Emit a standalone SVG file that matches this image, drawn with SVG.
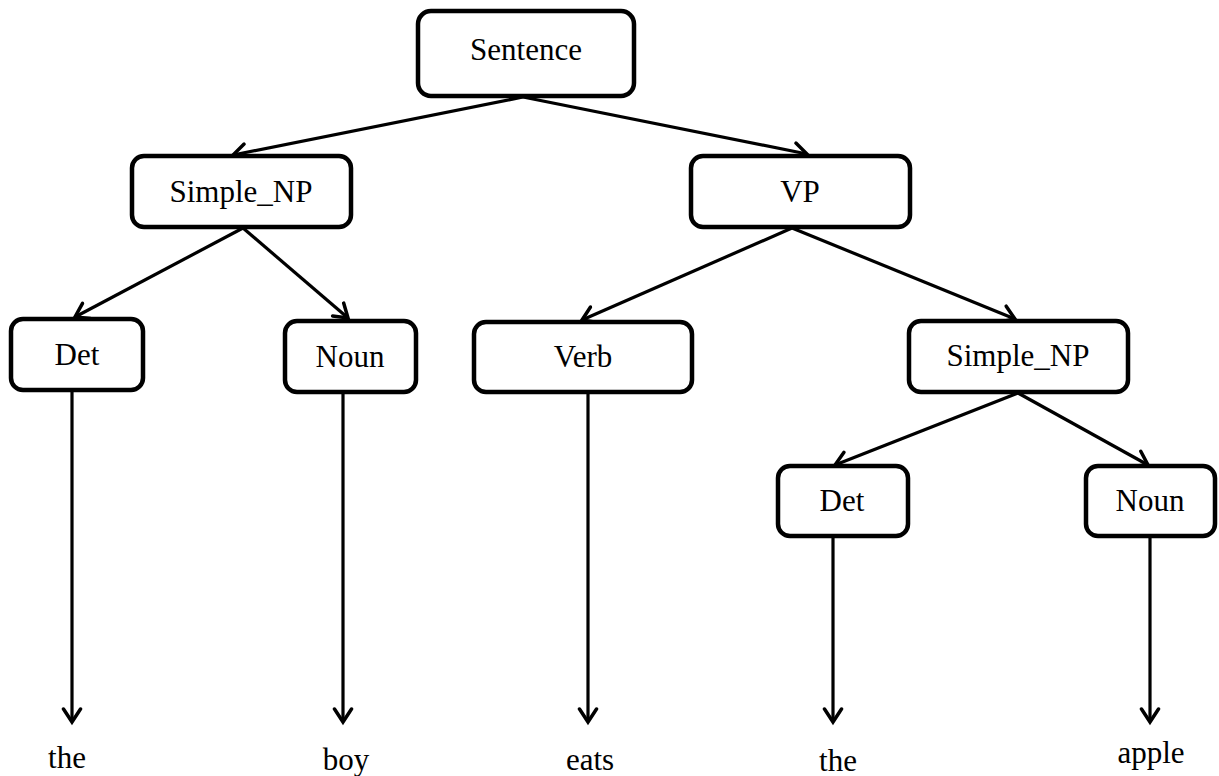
<svg xmlns="http://www.w3.org/2000/svg" width="1219" height="776" viewBox="0 0 1219 776">
<defs>
<marker id="arr" markerUnits="userSpaceOnUse" markerWidth="30" markerHeight="30" viewBox="-15 -15 30 30" refX="0" refY="0" orient="auto">
<path d="M-13,-8.5 L0,0 L-13,8.5" fill="none" stroke="#000" stroke-width="3.5" stroke-linejoin="miter" stroke-linecap="round"/>
</marker>
</defs>
<style>
.box{fill:#fff;stroke:#000;stroke-width:4.5}
.lbl{font-family:"Liberation Serif","Times New Roman",serif;font-size:31px;fill:#000;text-anchor:middle}
.c{stroke:#000;stroke-width:3.2;fill:none;marker-end:url(#arr)}
</style>
<rect width="1219" height="776" fill="#fff"/>
<g id="connectors">
<line class="c" x1="523" y1="97" x2="233" y2="155"/>
<line class="c" x1="523" y1="97" x2="807" y2="154"/>
<line class="c" x1="243" y1="228" x2="75" y2="317"/>
<line class="c" x1="243" y1="228" x2="348" y2="318"/>
<line class="c" x1="792" y1="228" x2="582" y2="320"/>
<line class="c" x1="792" y1="228" x2="1015" y2="319"/>
<line class="c" x1="1018" y1="393" x2="835" y2="465"/>
<line class="c" x1="1018" y1="393" x2="1148" y2="465"/>
<line class="c" x1="72" y1="391" x2="72" y2="722"/>
<line class="c" x1="343" y1="393" x2="343" y2="722"/>
<line class="c" x1="588" y1="393" x2="588" y2="722"/>
<line class="c" x1="833" y1="537" x2="833" y2="722"/>
<line class="c" x1="1150" y1="537" x2="1150" y2="722"/>
</g>
<g id="n-sentence"><rect class="box" x="418" y="11" width="216" height="85" rx="13"/><text class="lbl" x="526" y="60">Sentence</text></g>
<g id="n-np1"><rect class="box" x="132" y="156" width="219" height="71" rx="12"/><text class="lbl" x="241" y="202">Simple_NP</text></g>
<g id="n-vp"><rect class="box" x="691" y="156" width="219" height="71" rx="12"/><text class="lbl" x="800" y="202">VP</text></g>
<g id="n-det1"><rect class="box" x="11" y="319" width="132" height="71" rx="12"/><text class="lbl" x="77" y="365">Det</text></g>
<g id="n-noun1"><rect class="box" x="285" y="321" width="131" height="71" rx="12"/><text class="lbl" x="350" y="367">Noun</text></g>
<g id="n-verb"><rect class="box" x="474" y="322" width="218" height="70" rx="12"/><text class="lbl" x="583" y="367">Verb</text></g>
<g id="n-np2"><rect class="box" x="909" y="321" width="219" height="71" rx="12"/><text class="lbl" x="1018" y="366">Simple_NP</text></g>
<g id="n-det2"><rect class="box" x="778" y="466" width="130" height="70" rx="12"/><text class="lbl" x="842" y="511">Det</text></g>
<g id="n-noun2"><rect class="box" x="1086" y="466" width="129" height="70" rx="12"/><text class="lbl" x="1150" y="511">Noun</text></g>
<g id="words">
<text class="lbl" x="67" y="768">the</text>
<text class="lbl" x="346" y="770">boy</text>
<text class="lbl" x="590" y="770">eats</text>
<text class="lbl" x="838" y="771">the</text>
<text class="lbl" x="1151" y="763">apple</text>
</g>
</svg>
